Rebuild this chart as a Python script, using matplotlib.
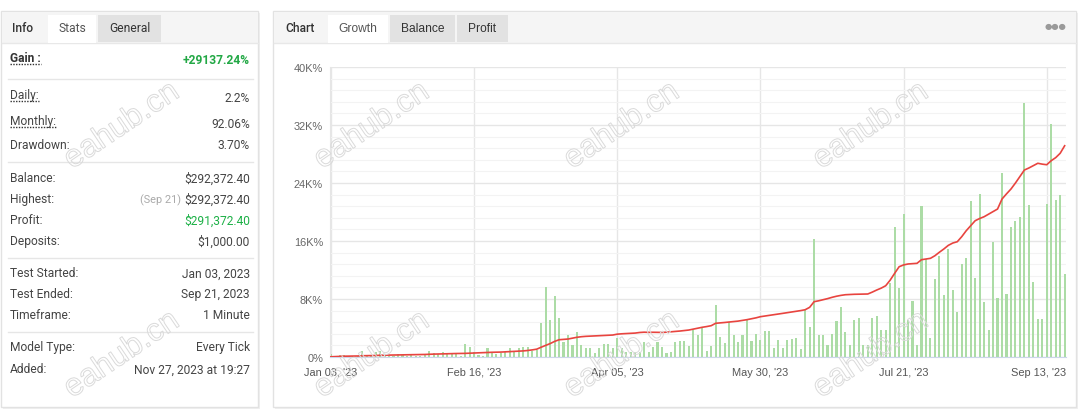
import matplotlib
matplotlib.use('Agg')
import matplotlib.pyplot as plt
from matplotlib.patches import Rectangle
import matplotlib.patheffects as pe
from matplotlib.transforms import ScaledTranslation

# ---------------- data ----------------
growth = [
    30, 60, 90, 110, 120, 130, 140, 170, 180, 190,
    210, 240, 250, 260, 270, 290, 300, 310, 320, 330,
    340, 350, 380, 400, 410, 430, 450, 460, 480, 490,
    500, 530, 550, 570, 600, 630, 650, 660, 680, 710,
    740, 770, 800, 840, 900, 980, 1080, 1350, 1600, 1850,
    2150, 2380, 2430, 2480, 2600, 2720, 2800, 2850, 2880, 2900,
    2930, 2960, 3000, 3030, 3150, 3200, 3230, 3260, 3300, 3380,
    3420, 3400, 3410, 3400, 3390, 3420, 3480, 3530, 3580, 3650,
    3720, 3850, 3980, 4100, 4200, 4320, 4650, 4700, 4760, 4820,
    4870, 4950, 5050, 5150, 5280, 5400, 5560, 5650, 5740, 5830,
    5930, 6020, 6120, 6210, 6300, 6400, 6520, 6850, 7630, 7750,
    7900, 8050, 8230, 8380, 8500, 8590, 8620, 8650, 8660, 8680,
    8690, 8950, 9240, 9500, 9830, 10600, 11540, 12450, 12700, 12830,
    12880, 12920, 13420, 13520, 13610, 13970, 14450, 14900, 15400, 15720,
    15900, 16600, 17420, 18100, 18800, 19100, 19350, 19700, 20050, 20410,
    21790, 22500, 23170, 24000, 24900, 25790, 26070, 26400, 26720, 26600,
    26520, 27080, 27500, 28100, 29140,
]
daily = [
    410, 140, 280, 280, 70, 70, 140, 830, 140, 280,
    690, 830, 280, 140, 140, 410, 280, 140, 280, 140,
    140, 280, 830, 550, 410, 690, 550, 410, 410, 140,
    1790, 1380, 690, 280, 140, 1310, 550, 410, 550, 690,
    1240, 690, 1240, 1380, 1380, 830, 970, 4690, 9660, 5100,
    8410, 5380, 2070, 3030, 1660, 3450, 1660, 1240, 1240, 550,
    1240, 1790, 1790, 1240, 2620, 1240, 690, 690, 690, 690,
    2070, 690, 1380, 2070, 1380, 550, 690, 2070, 2210, 2210,
    1520, 3720, 3030, 4000, 830, 1520, 7170, 2760, 1930, 4830,
    3030, 2070, 3030, 5100, 2210, 3170, 2340, 3590, 3590, 1240,
    2340, 1240, 2340, 2480, 2620, 1100, 6480, 4140, 16280, 3030,
    3030, 1660, 3170, 4970, 6900, 3450, 1660, 5100, 5380, 1660,
    1660, 5380, 5660, 3720, 3720, 10210, 17930, 9520, 19720, 5100,
    7720, 1660, 20830, 13520, 2620, 10760, 13930, 8550, 14900, 9240,
    6210, 12830, 13650, 21520, 10900, 22480, 7590, 3720, 15860, 8140,
    25380, 8690, 17930, 18760, 19310, 35030, 20970, 10340, 5240, 5240,
    21100, 32140, 21660, 22340, 11450,
]
x_tick_pos = [0, 32, 64, 96, 128, 160]
x_tick_labels = ["Jan 03, '23", "Feb 16, '23", "Apr 05, '23", "May 30, '23", "Jul 21, '23", "Sep 13, '23"]
y_ticks = [0, 8000, 16000, 24000, 32000, 40000]
y_tick_labels = ["0%", "8K%", "16K%", "24K%", "32K%", "40K%"]
y_minor = [v for v in range(0, 40001, 1600)]

left_tabs = ["Info", "Stats", "General"]
right_tabs = ["Chart", "Growth", "Balance", "Profit"]
stat_labels = ["Gain :", "Daily:", "Monthly:", "Drawdown:", "Balance:", "Highest:", "Profit:",
               "Deposits:", "Test Started:", "Test Ended:", "Timeframe:", "Model Type:", "Added:"]
stat_values = ["+29137.24%", "2.2%", "92.06%", "3.70%", "$292,372.40", "$292,372.40", "$291,372.40",
               "$1,000.00", "Jan 03, 2023", "Sep 21, 2023", "1 Minute", "Every Tick", "Nov 27, 2023 at 19:27"]
highest_note = "(Sep 21)"
watermark = "eahub.cn"

# ---------------- figure ----------------
W, H = 1084, 410
fig = plt.figure(figsize=(W / 100, H / 100), dpi=100)
fig.patch.set_facecolor('white')

bg = fig.add_axes([0, 0, 1, 1], zorder=0)
bg.set_xlim(0, W)
bg.set_ylim(H, 0)
bg.axis('off')

PX = 0.72  # points per pixel at 100 dpi
FONT_L = 'Roboto'
FONT_R = 'Liberation Sans'

def card(x0, y0, x1, y1):
    bg.add_patch(Rectangle((x0 + 2, y0 + 2), x1 - x0, y1 - y0, facecolor='#f0f0f0', edgecolor='none', zorder=0))
    bg.add_patch(Rectangle((x0, y0), x1 - x0, y1 - y0, facecolor='white', edgecolor='#e2e2e2', lw=1, zorder=1))
    bg.add_patch(Rectangle((x0 + 0.5, y0 + 0.5), x1 - x0 - 1, 31, facecolor='#f5f5f5', edgecolor='none', zorder=2))
    bg.plot([x0 + 0.5, x1 - 0.5], [y0 + 31.5, y0 + 31.5], color='#e8e8e8', lw=1, zorder=3)

# left card
card(1, 12, 258, 408)
bg.add_patch(Rectangle((48, 16), 48, 28, facecolor='white', edgecolor='none', zorder=4))
bg.add_patch(Rectangle((98, 16), 63, 27, facecolor='#e2e2e2', edgecolor='none', zorder=4))
bg.text(12, 28.5, left_tabs[0], fontsize=12 * PX, family=FONT_L, weight='medium', color='#333333', va='center', zorder=5)
bg.text(72, 28.5, left_tabs[1], fontsize=12 * PX, family=FONT_L, color='#555555', va='center', ha='center', zorder=5)
bg.text(129.5, 28.5, left_tabs[2], fontsize=12 * PX, family=FONT_L, color='#333333', va='center', ha='center', zorder=5)

row_y_label = [58, 95, 121, 146, 179, 200, 221, 242, 274, 295, 316, 348, 370]
row_y_value = [60, 98, 124, 146, 179, 200, 221, 242, 274, 295, 316, 348, 370]
underlined = {0, 1, 2}
label_texts = []
for i, (lab, val) in enumerate(zip(stat_labels, stat_values)):
    t = bg.text(10, row_y_label[i], lab, fontsize=12 * PX, family=FONT_L,
                weight='bold' if i == 0 else 'normal', color='#333333' if i == 0 else '#444444',
                va='center', ha='left', zorder=5)
    label_texts.append(t)
    vcol = '#444444'
    vw = 'normal'
    if i == 0:
        vcol, vw = '#22a845', 'bold'
    elif i == 6:
        vcol = '#1cb046'
    bg.text(250, row_y_value[i], val, fontsize=12 * PX, family=FONT_L, color=vcol, weight=vw,
            va='center', ha='right', zorder=5)
bg.text(181, 200, highest_note, fontsize=11 * PX, family=FONT_L, color='#aaaaaa', va='center', ha='right', zorder=5)

for ys in [80, 163, 259, 333]:
    bg.plot([8, 253], [ys, ys], color='#e6e6e6', lw=1, zorder=4)

# dotted underlines under the first labels
fig.canvas.draw()
rend = fig.canvas.get_renderer()
inv = bg.transData.inverted()
for i in underlined:
    bb = label_texts[i].get_window_extent(rend)
    (xa, _), (xb, _) = inv.transform([(bb.x0, bb.y0), (bb.x1, bb.y0)])
    yy = row_y_label[i] + 7
    bg.plot([xa, xb], [yy, yy], color='#333333', lw=1, ls=(0, (1, 1)), zorder=5)

# right card
card(273, 12, 1076, 408)
bg.add_patch(Rectangle((328, 16), 60, 28, facecolor='white', edgecolor='none', zorder=4))
bg.add_patch(Rectangle((390, 16), 65, 27, facecolor='#e2e2e2', edgecolor='none', zorder=4))
bg.add_patch(Rectangle((457, 16), 51, 27, facecolor='#e2e2e2', edgecolor='none', zorder=4))
bg.text(285, 28.5, right_tabs[0], fontsize=12 * PX, family=FONT_L, weight='medium', color='#333333', va='center', zorder=5)
for lab, cx in zip(right_tabs[1:], [358, 422.5, 482.5]):
    bg.text(cx, 28.5, lab, fontsize=12 * PX, family=FONT_R,
            color='#555555' if lab == 'Growth' else '#333333', va='center', ha='center', zorder=5)
bg.text(1055, 26, "\u25cf\u25cf\u25cf", fontsize=6, family='DejaVu Sans', color='#9a9a9a', va='center', ha='center', zorder=5)

# ---------------- chart ----------------
ax = fig.add_axes([330 / W, (H - 358) / H, 736 / W, 290 / H], zorder=2)
ax.patch.set_alpha(0)
idx = list(range(len(daily)))
ax.bar(idx, daily, width=0.47, color='#acdca6', zorder=2)
ax.plot(idx, growth, color='#e8443f', lw=1.2, zorder=3)
ax.set_xlim(-0.2, 164.3)
ax.set_ylim(0, 40000)
ax.set_yticks(y_ticks)
ax.set_yticklabels(y_tick_labels)
ax.set_yticks(y_minor, minor=True)
ax.set_xticks(x_tick_pos)
ax.set_xticklabels(x_tick_labels)
ax.tick_params(axis='both', which='both', length=0)
ax.tick_params(axis='y', labelsize=11 * PX, labelcolor='#666666', pad=5)
ax.tick_params(axis='x', labelsize=11 * PX, labelcolor='#555555', pad=7)
for lbl in ax.get_xticklabels() + ax.get_yticklabels():
    lbl.set_family(FONT_R)
ax.grid(which='major', axis='y', color='#e6e6e6', lw=1, zorder=0)
ax.grid(which='minor', axis='y', color='#f3f3f3', lw=0.8, zorder=0)
ax.grid(which='major', axis='x', color='#e6e6e6', lw=1, zorder=0)
ax.set_axisbelow(True)
for s in ['top', 'right']:
    ax.spines[s].set_visible(False)
ax.spines['left'].set_color('#e6e6e6')
ax.spines['bottom'].set_color('#ccd6eb')
last = ax.get_xticklabels()[-1]
last.set_transform(last.get_transform() + ScaledTranslation(-8 / 100, 0, fig.dpi_scale_trans))

# ---------------- watermarks ----------------
fg = fig.add_axes([0, 0, 1, 1], zorder=10)
fg.patch.set_alpha(0)
fg.set_xlim(0, W)
fg.set_ylim(H, 0)
fg.axis('off')
for cy in [127, 356]:
    for cx in [122, 372, 622, 871]:
        fg.text(cx, cy, watermark, fontsize=32 * PX, family='Liberation Sans', rotation=34,
                rotation_mode='anchor', ha='center', va='center', color=(1, 1, 1, 0),
                path_effects=[pe.Stroke(linewidth=0.7, foreground='#dadada')], zorder=10)

fig.savefig('out.png', dpi=100, facecolor='white')
